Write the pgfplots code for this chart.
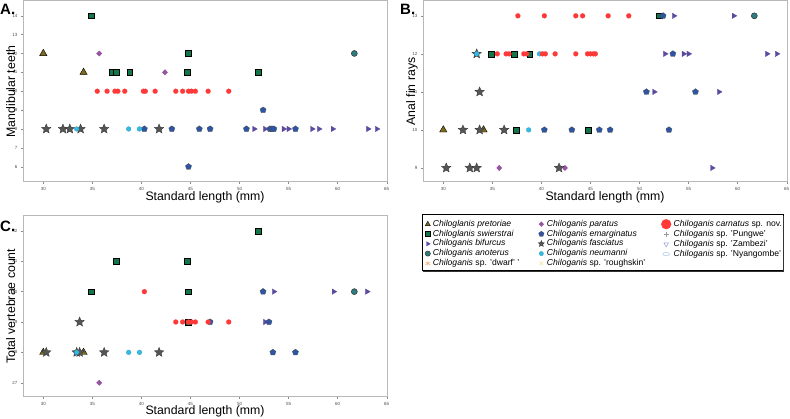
\documentclass[border=0pt]{standalone}
\usepackage{fontspec}
\setmainfont{Liberation Sans}
\usepackage{pgfplots}
\pgfplotsset{compat=1.18}
\usetikzlibrary{plotmarks}

\definecolor{cPret}{HTML}{7D6A1C}
\definecolor{cSwi}{HTML}{11774A}
\definecolor{cBif}{HTML}{5B4A9E}
\definecolor{cAno}{HTML}{2D7C7E}
\definecolor{cPar}{HTML}{9B52A8}
\definecolor{cEma}{HTML}{2C55A5}
\definecolor{cFas}{HTML}{555555}
\definecolor{cNeu}{HTML}{33BBE3}
\definecolor{cCar}{HTML}{FF3838}
\definecolor{cDwa}{HTML}{F5A66C}
\definecolor{cRou}{HTML}{EDE08C}
\definecolor{cPun}{HTML}{999999}
\definecolor{cZam}{HTML}{8C9AD2}
\definecolor{cNya}{HTML}{A9C6EA}

% filled five-pointed star
\newdimen\starin
\pgfdeclareplotmark{fstar}{%
  \starin=0.45\pgfplotmarksize
  \pgfpathmoveto{\pgfqpointpolar{90}{\pgfplotmarksize}}%
  \pgfpathlineto{\pgfqpointpolar{126}{\starin}}%
  \pgfpathlineto{\pgfqpointpolar{162}{\pgfplotmarksize}}%
  \pgfpathlineto{\pgfqpointpolar{198}{\starin}}%
  \pgfpathlineto{\pgfqpointpolar{234}{\pgfplotmarksize}}%
  \pgfpathlineto{\pgfqpointpolar{270}{\starin}}%
  \pgfpathlineto{\pgfqpointpolar{306}{\pgfplotmarksize}}%
  \pgfpathlineto{\pgfqpointpolar{342}{\starin}}%
  \pgfpathlineto{\pgfqpointpolar{18}{\pgfplotmarksize}}%
  \pgfpathlineto{\pgfqpointpolar{54}{\starin}}%
  \pgfpathclose
  \pgfusepathqfillstroke
}

\pgfplotsset{
  m pret/.style={mark=triangle*, mark size=4.2pt, mark options={fill=cPret, draw=black, line width=0.4pt}},
  m swi/.style={mark=square*, mark size=2.85pt, mark options={fill=cSwi, draw=black, line width=0.4pt}},
  m bif/.style={mark=triangle*, mark size=3.2pt, mark options={rotate=-90, fill=cBif, draw=cBif, line width=0.2pt}},
  m ano/.style={mark=*, mark size=3pt, mark options={fill=cAno, draw=black!80, line width=0.5pt}},
  m par/.style={mark=diamond*, mark size=2.7pt, mark options={xscale=1.3, fill=cPar, draw=cPar!80!black, line width=0.2pt}},
  m ema/.style={mark=pentagon*, mark size=3.2pt, mark options={fill=cEma, draw=black!70, line width=0.3pt}},
  m fas/.style={mark=fstar, mark size=5pt, mark options={fill=cFas, draw=black!80, line width=0.3pt}},
  m neu/.style={mark=*, mark size=2.4pt, mark options={fill=cNeu, draw=cNeu!80!black, line width=0.2pt}},
  m car/.style={mark=*, mark size=2.5pt, mark options={fill=cCar, draw=cCar, line width=0.1pt}},
  m dwa/.style={mark=asterisk, mark size=2.6pt, mark options={draw=cDwa, line width=0.5pt}},
  m rou/.style={mark=x, mark size=2.6pt, mark options={draw=cRou, line width=0.5pt}},
  m pun/.style={mark=+, mark size=2.6pt, mark options={draw=cPun, line width=0.5pt}},
  m zam/.style={mark=triangle, mark size=2.6pt, mark options={rotate=180, draw=cZam, line width=0.5pt}},
  m nya/.style={mark=o, mark size=2.6pt, mark options={xscale=1.3, yscale=0.65, draw=cNya, line width=0.5pt}},
  panel/.style={
    scale only axis, width=364pt, height=181pt, anchor=north west,
    xmin=27.93, xmax=65.03, xtick={30,35,...,65},
    axis line style={draw=black!28, line width=1pt},
    tick style={black!45, line width=0.4pt}, tick align=outside, major tick length=2pt,
    xtick pos=bottom, ytick pos=left,
    tick label style={font=\fontsize{4.5}{5}\selectfont, text=black!70},
    /pgf/number format/assume math mode=true,
    xlabel={Standard length (mm)},
    every axis x label/.style={at={(axis description cs:0.5,0)}, anchor=north, yshift=-9pt, inner sep=0pt, font=\fontsize{12.3}{14}\selectfont},
    every axis y label/.style={at={(axis description cs:0,0.5)}, xshift=-8pt, rotate=90, anchor=base, inner sep=0pt, font=\fontsize{12.3}{14}\selectfont},
  },
  leg/.style={
    hide axis, scale only axis, width=10pt, height=10pt, anchor=north west,
    xmin=0, xmax=1, ymin=0, ymax=1,
    legend cell align=left,
    legend image code/.code={\draw[##1] plot coordinates {(0pt,0pt)};},
    legend style={at={(0,1)}, anchor=north west, draw=none, fill=none, inner sep=0pt,
      row sep=0.8pt, font=\fontsize{8.6}{10}\selectfont,
      nodes={inner xsep=2.5pt, inner ysep=0pt, text height=6.6pt, text depth=2.4pt}},
  },
}

\begin{document}
\begin{tikzpicture}
\path[use as bounding box] (0pt,0pt) rectangle (790pt,-419pt);

% ---------------- A ----------------
\begin{axis}[panel, at={(23pt,-1pt)}, ymin=5.19, ymax=14.78, ytick={6,...,14}, ylabel={Mandibular teeth}]
\addplot[only marks, m pret] coordinates {(30.0,12) (34.1,11)};
\addplot[only marks, m swi] coordinates {(34.9,14) (37.0,11) (37.4,11) (38.8,11) (44.8,12) (44.7,11) (51.9,11)};
\addplot[only marks, m bif] coordinates {(51.5,8) (52.6,8) (54.5,8) (55.0,8) (57.4,8) (58.1,8) (59.5,8) (63.1,8) (64.0,8)};
\addplot[only marks, m ano] coordinates {(61.7,12)};
\addplot[only marks, m par] coordinates {(35.7,12) (42.4,11)};
\addplot[only marks, m ema] coordinates {(40.3,8) (43.1,8) (45.9,8) (47.0,8) (50.7,8) (53.1,8) (53.3,8) (53.5,8) (55.7,8) (52.4,9) (44.8,6)};
\addplot[only marks, m fas] coordinates {(30.3,8) (32.0,8) (32.7,8) (33.8,8) (36.2,8) (41.8,8)};
\addplot[only marks, m neu] coordinates {(33.4,8) (38.7,8) (39.8,8)};
\addplot[only marks, m car] coordinates {(35.5,10) (36.5,10) (37.3,10) (37.6,10) (38.3,10) (40.2,10) (40.4,10) (41.4,10) (43.5,10) (44.2,10) (44.8,10) (45.1,10) (45.5,10) (46.8,10) (48.9,10)};
\end{axis}

% ---------------- B ----------------
\begin{axis}[panel, at={(423pt,-1pt)}, ymin=8.63, ymax=13.39, ytick={9,...,13}, ylabel={Anal fin rays}]
\addplot[only marks, m pret] coordinates {(30.0,10) (34.1,10)};
\addplot[only marks, m swi] coordinates {(34.9,12) (37.2,12) (38.8,12) (52.0,13) (37.4,10) (44.8,10)};
\addplot[only marks, m bif] coordinates {(53.5,13) (59.6,13) (52.6,12) (54.5,12) (55.0,12) (63.0,12) (64.0,12) (51.5,11) (58.1,11) (57.4,9)};
\addplot[only marks, m ano] coordinates {(61.7,13)};
\addplot[only marks, m par] coordinates {(35.7,9) (42.4,9)};
\addplot[only marks, m ema] coordinates {(52.4,13) (53.4,12) (50.7,11) (55.7,11) (40.3,10) (43.1,10) (45.9,10) (47.0,10) (53.0,10)};
\addplot[only marks, m fas] coordinates {(30.3,9) (32.7,9) (33.4,9) (41.8,9) (32.0,10) (33.7,10) (36.2,10) (33.7,11) (33.4,12)};
\addplot[only marks, m neu] coordinates {(33.4,12) (39.8,12) (38.7,10)};
\addplot[only marks, m car] coordinates {(37.6,13) (40.3,13) (43.5,13) (44.2,13) (46.8,13) (48.9,13)
  (35.5,12) (36.4,12) (36.7,12) (38.2,12) (38.5,12) (40.1,12) (40.4,12) (41.4,12) (43.5,12) (44.7,12) (45.0,12) (45.3,12) (45.5,12)};
\end{axis}

% ---------------- C ----------------
\begin{axis}[panel, at={(23pt,-215.7pt)}, ymin=26.54, ymax=32.5, ytick={27,...,32}, ylabel={Total vertebrae count}]
\addplot[only marks, m pret] coordinates {(30.0,28) (34.1,28)};
\addplot[only marks, m swi] coordinates {(51.9,32) (37.4,31) (44.7,31) (34.9,30) (44.8,30) (44.8,29)};
\addplot[only marks, m bif] coordinates {(53.5,30) (59.6,30) (63.0,30) (52.6,29)};
\addplot[only marks, m ano] coordinates {(61.7,30)};
\addplot[only marks, m par] coordinates {(35.7,27)};
\addplot[only marks, m ema] coordinates {(52.4,30) (47.0,29) (53.0,29) (53.4,28) (55.7,28)};
\addplot[only marks, m fas] coordinates {(30.3,28) (33.4,28) (33.7,28) (36.2,28) (41.8,28) (33.7,29)};
\addplot[only marks, m neu] coordinates {(33.4,28) (38.7,28) (39.8,28)};
\addplot[only marks, m car] coordinates {(40.3,30) (43.5,29) (44.2,29) (44.8,29) (45.1,29) (45.5,29) (46.8,29) (48.9,29)};
\end{axis}

% panel letters
\node[anchor=base west, inner sep=0pt, font=\fontsize{15}{15}\bfseries\selectfont] at (0pt,-15pt) {A.};
\node[anchor=base west, inner sep=0pt, font=\fontsize{15}{15}\bfseries\selectfont] at (400pt,-15pt) {B.};
\node[anchor=base west, inner sep=0pt, font=\fontsize{15}{15}\bfseries\selectfont] at (0pt,-232pt) {C.};

% legend
\draw[black, line width=1pt] (422pt,-215pt) rectangle (783pt,-271pt);
\draw[black!80, line width=0.8pt] (423pt,-271.8pt) -- (783.8pt,-271.8pt) -- (783.8pt,-216pt);

\begin{axis}[leg, at={(425pt,-219.5pt)}]
\addlegendimage{m pret, mark size=2.9pt}\addlegendentry{\textit{Chiloglanis pretoriae}}
\addlegendimage{m swi, mark size=2.5pt}\addlegendentry{\textit{Chiloglanis swierstrai}}
\addlegendimage{m bif, mark size=2.6pt}\addlegendentry{\textit{Chiloganis bifurcus}}
\addlegendimage{m ano, mark size=2.6pt}\addlegendentry{\textit{Chiloganis anoterus}}
\addlegendimage{m dwa}\addlegendentry{\textit{Chiloganis} sp. 'dwarf' '}
\end{axis}
\begin{axis}[leg, at={(538pt,-219.5pt)}]
\addlegendimage{m par, mark size=2.4pt}\addlegendentry{\textit{Chiloganis paratus}}
\addlegendimage{m ema, mark size=2.8pt}\addlegendentry{\textit{Chiloganis emarginatus}}
\addlegendimage{m fas, mark size=3.3pt}\addlegendentry{\textit{Chiloganis fasciatus}}
\addlegendimage{m neu, mark size=2.2pt}\addlegendentry{\textit{Chiloganis neumanni}}
\addlegendimage{m rou}\addlegendentry{\textit{Chiloganis} sp. 'roughskin'}
\end{axis}
\begin{axis}[leg, at={(661pt,-219pt)}]
\addlegendimage{m car, mark size=5pt}\addlegendentry{\textit{Chiloganis carnatus} sp. nov.}
\addlegendimage{m pun}\addlegendentry{\textit{Chiloganis} sp. 'Pungwe'}
\addlegendimage{m zam}\addlegendentry{\textit{Chiloganis} sp. 'Zambezi'}
\addlegendimage{m nya}\addlegendentry{\textit{Chiloganis} sp. 'Nyangombe'}
\end{axis}
\end{tikzpicture}
\end{document}
